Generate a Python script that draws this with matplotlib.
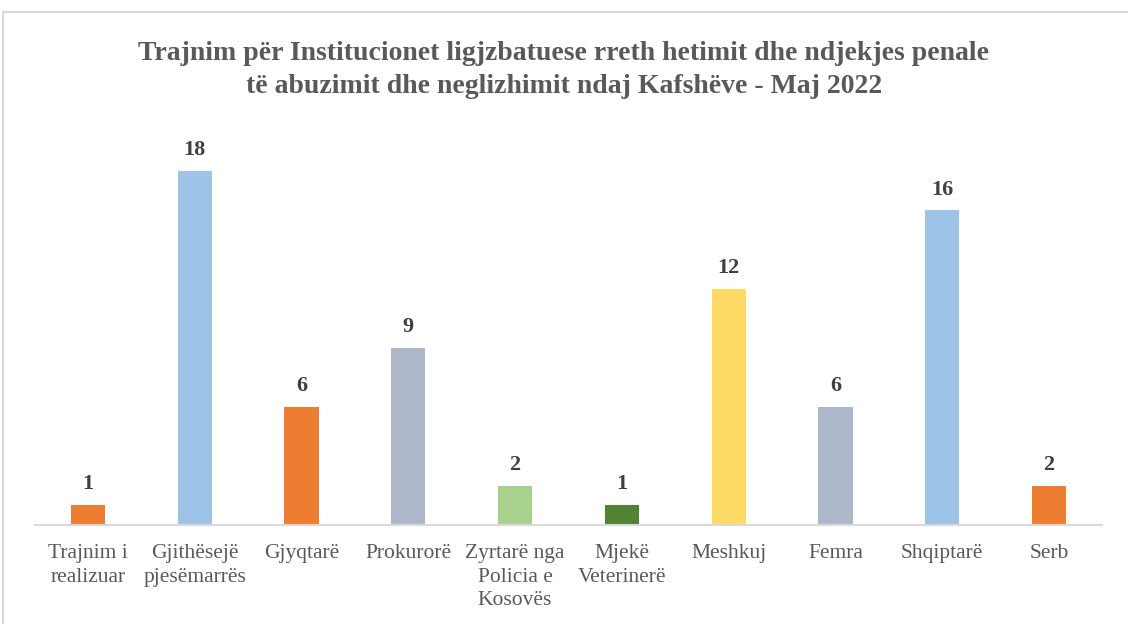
import matplotlib.pyplot as plt
from matplotlib.patches import Rectangle

# Të dhënat
kategorite = ["Trajnim i\nrealizuar", "Gjithësejë\npjesëmarrës", "Gjyqtarë", "Prokurorë",
              "Zyrtarë nga\nPolicia e\nKosovës", "Mjekë\nVeterinerë", "Meshkuj", "Femra",
              "Shqiptarë", "Serb"]
vlerat = [1, 18, 6, 9, 2, 1, 12, 6, 16, 2]
ngjyrat = ["#ED7D31", "#9DC3E6", "#ED7D31", "#ADB9CA", "#A9D18E",
           "#548235", "#FFD966", "#ADB9CA", "#9DC3E6", "#ED7D31"]
titulli = ("Trajnim për Institucionet ligjzbatuese rreth hetimit dhe ndjekjes penale\n"
           "të abuzimit dhe neglizhimit ndaj Kafshëve - Maj 2022")

plt.rcParams['font.family'] = ['Liberation Serif', 'DejaVu Serif']

fig = plt.figure(figsize=(11.28, 6.24), dpi=100)
ax = fig.add_axes([0.0307, 0.1587, 0.9466, 0.6303])

x = range(len(vlerat))
bars = ax.bar(x, vlerat, width=0.32, color=ngjyrat)
for b, v in zip(bars, vlerat):
    ax.text(b.get_x() + b.get_width() / 2, v + 0.55, str(v), ha='center', va='bottom',
            fontsize=16, fontweight='bold', color='#404040')

ax.set_xlim(-0.5, len(vlerat) - 0.5)
ax.set_ylim(0, 20)
ax.set_xticks(list(x))
ax.set_xticklabels(kategorite, fontsize=15.5, color='#595959', linespacing=1.32, va='top')
ax.tick_params(axis='x', length=0, pad=14)
ax.set_yticks([])
for s in ['top', 'right', 'left']:
    ax.spines[s].set_visible(False)
ax.spines['bottom'].set_color('#D9D9D9')
ax.spines['bottom'].set_linewidth(1.5)

fig.text(0.5, 0.888, titulli, ha='center', va='center', fontsize=20, fontweight='bold',
         color='#595959', linespacing=1.42)

# kornizë rreth grafikut
fig.patches.append(Rectangle((3 / 1128, -0.01), 1.2, 1 - 12 / 624 + 0.01, transform=fig.transFigure,
                             fill=False, edgecolor='#D9D9D9', linewidth=1.5))

fig.savefig("out.png", dpi=100)
